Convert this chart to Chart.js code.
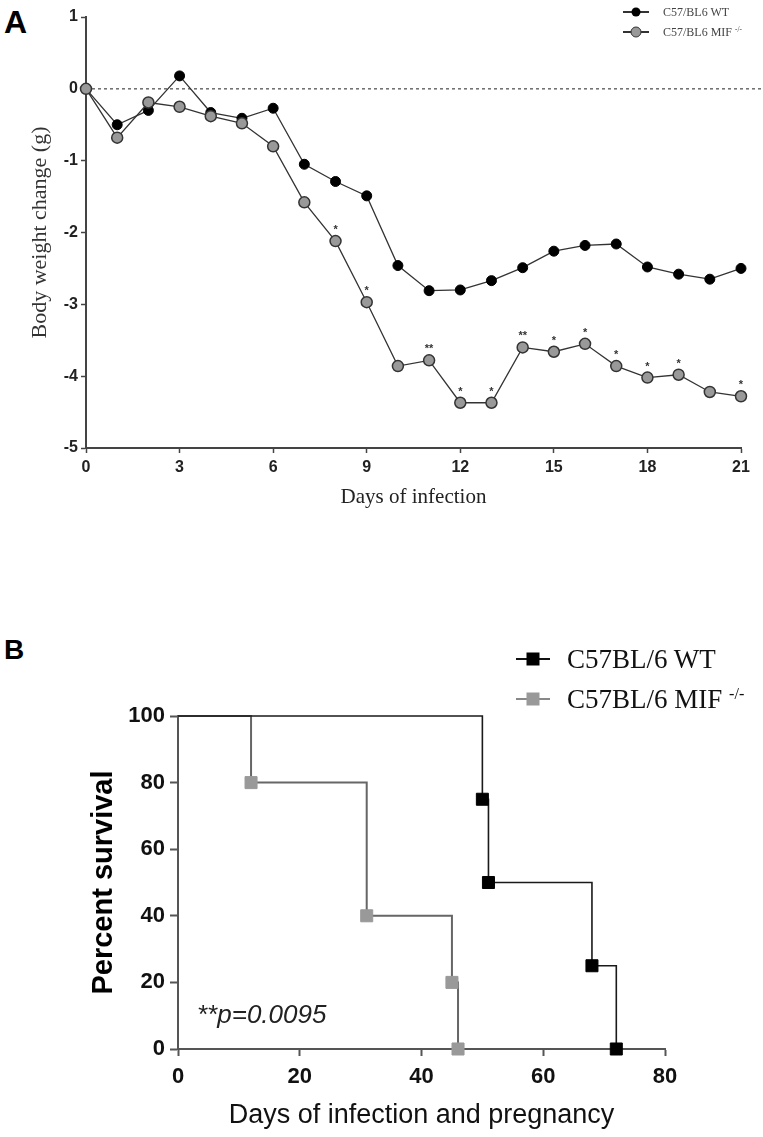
<!DOCTYPE html>
<html>
<head>
<meta charset="utf-8">
<script src="https://cdn.jsdelivr.net/npm/chart.js@4.4.1/dist/chart.umd.min.js"></script>
<style>
  body { margin: 0; background: #fff; }
  #page { position: relative; width: 763px; height: 1137px; overflow: hidden; background: #fff; }
  .panel { position: absolute; left: 0; }
  .letter { position: absolute; left: 4px; font-family: "Liberation Sans", Arial, sans-serif; font-weight: bold; line-height: 1; color: #000; }
  .leg { position: absolute; display: flex; align-items: center; font-family: "Liberation Serif", "Times New Roman", serif; white-space: nowrap; }
  .leg .mk { position: relative; flex: none; }
  .leg .ln { position: absolute; left: 0; right: 0; top: 50%; }
  .leg .dot { position: absolute; left: 50%; top: 50%; transform: translate(-50%, -50%); box-sizing: border-box; }
  .leg sup { font-size: 60%; vertical-align: 0.55em; line-height: 0; }
  #pval { position: absolute; left: 197px; top: 1001px; font-family: "Liberation Sans", Arial, sans-serif; font-style: italic; font-size: 26px; line-height: 1; color: #222; }
</style>
</head>
<body>
<div id="page">
  <div class="letter" style="top:6px;font-size:32px;">A</div>
  <div class="letter" style="top:636px;font-size:28px;">B</div>

  <div class="panel" style="top:0;width:763px;height:520px;"><canvas id="weightChart" width="763" height="520"></canvas></div>
  <div class="panel" style="top:620px;width:763px;height:517px;"><canvas id="survivalChart" width="763" height="517"></canvas></div>

  <!-- panel A legend -->
  <div class="leg" style="left:623px;top:4px;height:16px;font-size:12px;color:#444;">
    <span class="mk" style="width:26px;height:16px;"><span class="ln" style="height:1.5px;margin-top:-0.75px;background:#333;"></span><span class="dot" style="width:9px;height:9px;border-radius:50%;background:#000;"></span></span>
    <span style="margin-left:14px;">C57/BL6 WT</span>
  </div>
  <div class="leg" style="left:623px;top:24px;height:16px;font-size:12px;color:#444;">
    <span class="mk" style="width:26px;height:16px;"><span class="ln" style="height:1.5px;margin-top:-0.75px;background:#333;"></span><span class="dot" style="width:11px;height:11px;border-radius:50%;background:#999;border:1.5px solid #333;"></span></span>
    <span style="margin-left:14px;">C57/BL6 MIF <sup>-/-</sup></span>
  </div>

  <!-- panel B legend -->
  <div class="leg" style="left:516px;top:643px;height:32px;font-size:27px;color:#111;">
    <span class="mk" style="width:34px;height:32px;"><span class="ln" style="height:2px;margin-top:-1px;background:#111;"></span><span class="dot" style="width:13px;height:13px;background:#000;"></span></span>
    <span style="margin-left:17px;">C57BL/6 WT</span>
  </div>
  <div class="leg" style="left:516px;top:683px;height:32px;font-size:27px;color:#111;">
    <span class="mk" style="width:34px;height:32px;"><span class="ln" style="height:2px;margin-top:-1px;background:#888;"></span><span class="dot" style="width:13px;height:13px;background:#999;"></span></span>
    <span style="margin-left:17px;">C57BL/6 MIF <sup>-/-</sup></span>
  </div>

  <div id="pval">**p=0.0095</div>
</div>

<script>
// ── Panel A: body weight change ──────────────────────────────────────────────
const DAYS = [0, 1, 2, 3, 4, 5, 6, 7, 8, 9, 10, 11, 12, 13, 14, 15, 16, 17, 18, 19, 20, 21];
const WT_CHANGE = [0, -0.50, -0.30, 0.18, -0.33, -0.41, -0.27, -1.05, -1.29, -1.49, -2.46, -2.81,
    -2.80, -2.67, -2.49, -2.26, -2.18, -2.16, -2.48, -2.58, -2.65, -2.50];
const MIF_CHANGE = [0, -0.68, -0.19, -0.25, -0.38, -0.48, -0.80, -1.58, -2.12, -2.97, -3.86, -3.78,
    -4.37, -4.37, -3.60, -3.66, -3.55, -3.86, -4.02, -3.98, -4.22, -4.28];
const MIF_STARS = ['', '', '', '', '', '', '', '', '*', '*', '', '**', '*', '*', '**', '*', '*', '*', '*', '*', '', '*'];
const WEIGHT_X_TICKS = [0, 3, 6, 9, 12, 15, 18, 21];
const WEIGHT_Y_TICKS = [1, 0, -1, -2, -3, -4, -5];

// ── Panel B: survival ────────────────────────────────────────────────────────
const WT_SURV_DAYS = [0, 50, 51, 68, 72];
const WT_SURV = [100, 75, 50, 25, 0];
const MIF_SURV_DAYS = [0, 12, 31, 45, 46];
const MIF_SURV = [100, 80, 40, 20, 0];
const SURV_X_TICKS = [0, 20, 40, 60, 80];
const SURV_Y_TICKS = [0, 20, 40, 60, 80, 100];

const SANS = '"Liberation Sans", Arial, sans-serif';
const SERIF = '"Liberation Serif", "Times New Roman", serif';
const AXIS = '#444';

const pairs = (xs, ys) => xs.map((x, i) => ({ x, y: ys[i] }));
const fixedTicks = list => scale => { scale.ticks = list.map(v => ({ value: v })); };

// Dotted reference line at y = 0, running off to the right edge.
const zeroLine = {
    id: 'zeroLine',
    beforeDatasetsDraw(chart) {
        const { ctx, chartArea, scales } = chart;
        const y = scales.y.getPixelForValue(0);
        ctx.save();
        ctx.strokeStyle = '#555';
        ctx.lineWidth = 1.3;
        ctx.setLineDash([3, 3]);
        ctx.beginPath();
        ctx.moveTo(chartArea.left, y);
        ctx.lineTo(chart.width, y);
        ctx.stroke();
        ctx.restore();
    },
};

// Significance marks above the MIF points.
const starMarks = {
    id: 'starMarks',
    afterDatasetsDraw(chart) {
        const { ctx } = chart;
        const meta = chart.getDatasetMeta(0);
        ctx.save();
        ctx.fillStyle = '#333';
        ctx.font = `bold 11px ${SANS}`;
        ctx.textAlign = 'center';
        ctx.textBaseline = 'middle';
        meta.data.forEach((pt, i) => {
            if (MIF_STARS[i]) ctx.fillText(MIF_STARS[i], pt.x, pt.y - 11);
        });
        ctx.restore();
    },
};

new Chart(document.getElementById('weightChart'), {
    type: 'line',
    data: {
        datasets: [
            {
                label: 'C57/BL6 MIF -/-',
                data: pairs(DAYS, MIF_CHANGE),
                borderColor: '#333',
                borderWidth: 1.3,
                pointRadius: 5.5,
                pointBackgroundColor: '#999',
                pointBorderColor: '#333',
                pointBorderWidth: 1.5,
                order: 0,
                clip: false,
            },
            {
                label: 'C57/BL6 WT',
                data: pairs(DAYS, WT_CHANGE),
                borderColor: '#333',
                borderWidth: 1.3,
                pointRadius: 5,
                pointBackgroundColor: '#000',
                pointBorderColor: '#000',
                pointBorderWidth: 1,
                order: 1,
                clip: false,
            },
        ],
    },
    options: {
        responsive: false,
        animation: false,
        layout: { padding: { left: 0, right: 22, top: 17, bottom: 0 } },
        plugins: { legend: { display: false }, tooltip: { enabled: false } },
        scales: {
            x: {
                type: 'linear', min: 0, max: 21,
                afterBuildTicks: fixedTicks(WEIGHT_X_TICKS),
                afterFit: s => { s.height = 72; },
                ticks: { color: '#222', padding: 5, font: { family: SANS, weight: 'bold', size: 16 } },
                grid: { drawOnChartArea: false, tickLength: 5, tickColor: AXIS, tickWidth: 1.5 },
                border: { color: AXIS, width: 2 },
                title: { display: true, text: 'Days of infection', color: '#222', font: { family: SERIF, size: 21, lineHeight: 1.2 }, padding: { top: 0, bottom: 10 } },
            },
            y: {
                type: 'linear', min: -5, max: 1,
                afterBuildTicks: fixedTicks(WEIGHT_Y_TICKS),
                afterFit: s => { s.width = 86; },
                ticks: { color: '#222', padding: 3, font: { family: SANS, weight: 'bold', size: 16 } },
                grid: { drawOnChartArea: false, tickLength: 5, tickColor: AXIS, tickWidth: 1.5 },
                border: { color: AXIS, width: 2 },
                title: { display: true, text: 'Body weight change (g)', color: '#333', font: { family: SERIF, size: 22, lineHeight: 1.2 }, padding: { top: 27, bottom: 0 } },
            },
        },
    },
    plugins: [zeroLine, starMarks],
});

// Markers only where the curve drops, not at the start.
const dropRadius = r => ctx => (ctx.dataIndex === 0 ? 0 : r);

new Chart(document.getElementById('survivalChart'), {
    type: 'line',
    data: {
        datasets: [
            {
                label: 'C57BL/6 WT',
                data: pairs(WT_SURV_DAYS, WT_SURV),
                stepped: 'before',
                borderColor: '#1a1a1a',
                borderWidth: 1.6,
                pointStyle: 'rect',
                pointRadius: dropRadius(8.5),
                pointBackgroundColor: '#000',
                pointBorderColor: '#000',
                pointBorderWidth: 1,
                order: 0,
                clip: false,
            },
            {
                label: 'C57BL/6 MIF -/-',
                data: pairs(MIF_SURV_DAYS, MIF_SURV),
                stepped: 'before',
                borderColor: '#666',
                borderWidth: 2,
                pointStyle: 'rect',
                pointRadius: dropRadius(8.5),
                pointBackgroundColor: '#999',
                pointBorderColor: '#999',
                pointBorderWidth: 1,
                order: 1,
                clip: false,
            },
        ],
    },
    options: {
        responsive: false,
        animation: false,
        layout: { padding: { left: 0, right: 98, top: 96, bottom: 0 } },
        plugins: { legend: { display: false }, tooltip: { enabled: false } },
        scales: {
            x: {
                type: 'linear', min: 0, max: 80,
                afterBuildTicks: fixedTicks(SURV_X_TICKS),
                afterFit: s => { s.height = 88; },
                ticks: { color: '#111', padding: 8, font: { family: SANS, weight: 'bold', size: 22 } },
                grid: { drawOnChartArea: false, tickLength: 7, tickColor: '#555', tickWidth: 2 },
                border: { color: '#555', width: 2 },
                title: { display: true, text: 'Days of infection and pregnancy', color: '#111', font: { family: SANS, size: 27, lineHeight: 1.2 }, padding: { top: 0, bottom: 5 } },
            },
            y: {
                type: 'linear', min: 0, max: 100,
                afterBuildTicks: fixedTicks(SURV_Y_TICKS),
                afterFit: s => { s.width = 178; },
                ticks: { color: '#111', padding: 5, font: { family: SANS, weight: 'bold', size: 22 } },
                grid: { drawOnChartArea: false, tickLength: 8, tickColor: '#555', tickWidth: 2 },
                border: { color: '#555', width: 2 },
                title: { display: true, text: 'Percent survival', color: '#000', font: { family: SANS, weight: 'bold', size: 29, lineHeight: 1.2 }, padding: { top: 87, bottom: 0 } },
            },
        },
    },
});
</script>
</body>
</html>
